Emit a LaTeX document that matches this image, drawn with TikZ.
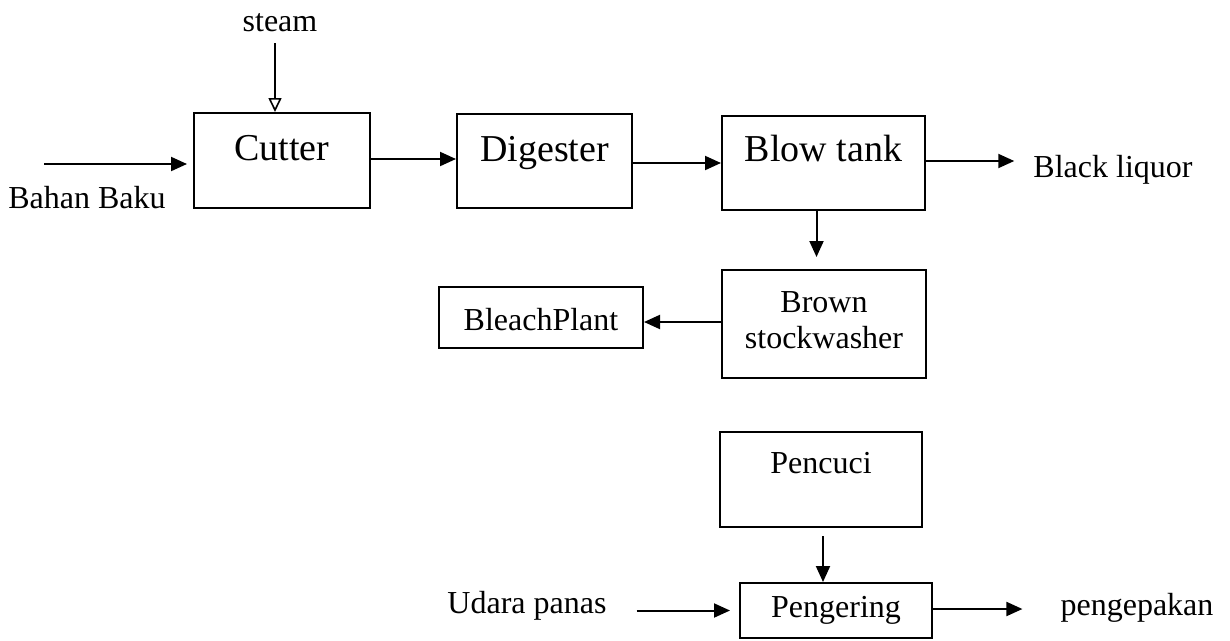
\documentclass[tikz,border=0pt]{standalone}
\usepackage{fontspec}
\setmainfont{Liberation Serif}
\usetikzlibrary{arrows.meta}
\tikzset{
  procbox/.style={draw=black, line width=2pt, inner sep=0pt, align=center},
  bigtxt/.style={font=\fontsize{38}{44}\selectfont},
  smalltxt/.style={font=\fontsize{32}{36}\selectfont},
  freetxt/.style={inner sep=0pt, anchor=base, font=\fontsize{32}{36}\selectfont},
  flow/.style={line width=2pt, -{Triangle[length=16pt,width=14pt]}},
  openflow/.style={line width=2pt, -{Triangle[open,length=14pt,width=13pt,line width=1.6pt]}}
}
\begin{document}
\begin{tikzpicture}[x=1pt,y=-1pt]
\useasboundingbox (0,0) rectangle (1230,640);
% process boxes
\node[procbox, bigtxt, minimum width=176pt, minimum height=95pt, text height=20pt, text depth=20pt] (cutter) at (282,160.5) {Cutter};
\node[procbox, bigtxt, minimum width=175pt, minimum height=94pt, text height=20pt, text depth=20pt] (digester) at (544.5,161) {Digester};
\node[procbox, bigtxt, minimum width=203pt, minimum height=94pt, text height=20pt, text depth=24pt] (blow) at (823.5,163) {Blow tank};
\node[procbox, smalltxt, minimum width=204pt, minimum height=108pt, text height=60pt, text depth=12pt] (brown) at (824,324) {Brown\\stockwasher};
\node[procbox, smalltxt, minimum width=204pt, minimum height=61pt, text height=30pt, text depth=5pt] (bleach) at (541,317.5) {BleachPlant};
\node[procbox, smalltxt, minimum width=202pt, minimum height=95pt, text height=20pt, text depth=33pt] (pencuci) at (821,479.5) {Pencuci};
\node[procbox, smalltxt, minimum width=192pt, minimum height=55pt, text height=23pt, text depth=10pt] (pengering) at (836,610.5) {Pengering};
% free texts
\node[freetxt] (steam) at (280,31) {steam};
\node[freetxt] (bahan) at (87,208) {Bahan Baku};
\node[freetxt] (black) at (1113,177) {Black liquor};
\node[freetxt] (udara) at (527,613) {Udara panas};
\node[freetxt] (pack) at (1137,615) {pengepakan};
% free ends
\coordinate (steamin) at (275,43);
\coordinate (bahanin) at (44,164);
% connectors
\draw[openflow] (steamin) -- (steamin |- cutter.north);
\draw[flow, shorten >=6pt] (bahanin) -- (bahanin -| cutter.west);
\draw[flow] ([yshift=1.5pt]cutter.east) -- ([yshift=1.5pt]cutter.east -| digester.west);
\draw[flow] (blow.west -| digester.east) -- (blow.west);
\draw[flow, shorten >=19pt] ([yshift=2pt]blow.east) -- ([yshift=2pt]blow.east -| black.west);
\draw[flow, shorten >=12pt] ([xshift=-7pt]blow.south) -- ([xshift=-7pt]blow.south |- brown.north);
\draw[flow] ([yshift=2pt]brown.west) -- ([yshift=2pt]brown.west -| bleach.east);
\draw[flow, shorten <=8pt] ([xshift=2pt]pencuci.south) -- ([xshift=2pt]pencuci.south |- pengering.north);
\draw[flow, shorten <=30pt, shorten >=9pt] (pengering.west -| udara.east) -- (pengering.west);
\draw[flow, shorten >=38pt] ([yshift=1.5pt]pengering.east) -- ([yshift=1.5pt]pengering.east -| pack.west);
\end{tikzpicture}
\end{document}
